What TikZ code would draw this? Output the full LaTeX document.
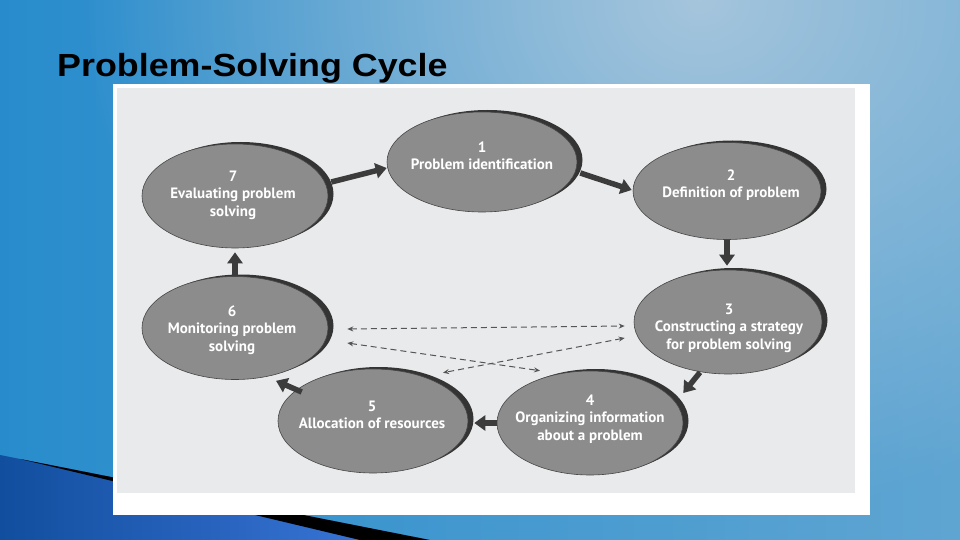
\documentclass[tikz,border=0pt]{standalone}
\usepackage{fontspec}
\usepackage{graphicx}
\setmainfont{Liberation Sans}
\newfontfamily\ptsans{PT Sans}
\usetikzlibrary{shapes.geometric,arrows.meta,shadows,fadings}
\definecolor{bgL}{RGB}{40,140,204}
\definecolor{bgR}{RGB}{95,165,210}
\definecolor{glowc}{RGB}{165,197,220}
\definecolor{swA}{RGB}{18,78,158}
\definecolor{swB}{RGB}{62,122,222}
\definecolor{pagec}{RGB}{233,234,235}
\definecolor{ellfill}{RGB}{140,140,140}
\definecolor{elldraw}{RGB}{70,70,70}
\definecolor{ellshadow}{RGB}{52,52,52}
\definecolor{arrowc}{RGB}{60,60,60}
\definecolor{dashc}{RGB}{85,85,85}
\tikzfading[name=softglow, inner color=transparent!0, outer color=transparent!100]
\tikzset{
  cyc/.style={ellipse, draw=elldraw, line width=0.6pt, fill=ellfill,
    minimum width=188pt, minimum height=103pt, inner sep=0pt,
    general shadow={shadow xshift=5.5pt, shadow yshift=2pt, fill=ellshadow}},
  cyctext/.style={text=white, font=\ptsans\bfseries\fontsize{15}{17.5}\selectfont,
    align=center, inner sep=0pt},
  bigarrow/.style={draw=arrowc, line width=5.5pt, -{Triangle[width=15pt,length=11pt]}},
  dasharrow/.style={draw=dashc, line width=1pt, dash pattern=on 6pt off 4pt,
    {Stealth[length=6pt,width=5pt]}-{Stealth[length=6pt,width=5pt]}}
}
\begin{document}
\begin{tikzpicture}[x=1pt,y=-1pt]
\useasboundingbox (0,0) rectangle (960,540);
% background
\shade[left color=bgL, right color=bgR] (0,0) rectangle (960,540);
\fill[glowc, path fading=softglow] (80,-520) rectangle (1320,520);
% bottom-left swoosh
\shade[left color=swA, right color=swB] (0,455) -- (430,540) -- (0,540) -- cycle;
\fill[black] (20,459) -- (430,540) -- (360,540) -- cycle;
% title
\node[anchor=base west, inner sep=0pt, font=\bfseries\fontsize{32}{36}\selectfont] (title) at (57,77) {\scalebox{1.12}[1]{Problem-Solving Cycle}};
% panel
\fill[white] (113,84) rectangle (870,515);
\fill[pagec] (117,88) rectangle (855,493);
% ellipses
\node[cyc, minimum width=190pt, minimum height=100pt] (e1) at (482,162) {};
\node[cyc, minimum height=97pt] (e2) at (727,191) {};
\node[cyc, minimum width=186pt, minimum height=104pt] (e7) at (235,196) {};
\node[cyc, minimum width=186pt] (e6) at (235,328) {};
\node[cyc, minimum height=104pt] (e3) at (728,322) {};
\node[cyc, minimum width=186pt, minimum height=104pt] (e4) at (590,423) {};
\node[cyc, minimum width=190pt, minimum height=104pt] (e5) at (373,421) {};
% texts
\node[cyctext] (t1) at (482,156) {1\\Problem identification};
\node[cyctext] (t2) at (731,185) {2\\Definition of problem};
\node[cyctext] (t7) at (233,195) {7\\Evaluating problem\\solving};
\node[cyctext] (t6) at (232,330) {6\\Monitoring problem\\solving};
\node[cyctext] (t3) at (729,328) {3\\Constructing a strategy\\for problem solving};
\node[cyctext] (t4) at (590,419) {4\\Organizing information\\about a problem};
\node[cyctext] (t5) at (372,415) {5\\Allocation of resources};
% cycle arrows
\draw[bigarrow] ([xshift=3pt,yshift=14pt]e7.east) -- ([yshift=-6pt]e1.west);
\draw[bigarrow] ([xshift=3pt,yshift=-11pt]e1.east) -- ([xshift=-1pt,yshift=1pt]e2.west);
\draw[bigarrow] (e2.south) -- ([xshift=-1pt,yshift=4pt]e3.north);
\draw[bigarrow] ([xshift=-28pt,yshift=2pt]e3.south) -- ([yshift=30pt]e4.east);
\draw[bigarrow] (e4.west) -- ([xshift=6pt,yshift=-2pt]e5.east);
\draw[bigarrow] ([xshift=24pt,yshift=29pt]e5.west) -- ([xshift=41pt,yshift=-1pt]e6.south);
\draw[bigarrow] (e6.north) -- ([yshift=-4pt]e7.south);
% dashed arrows
\draw[dasharrow] ([xshift=19pt,yshift=-1pt]e6.east) -- ([xshift=-9pt,yshift=-4pt]e3.west);
\draw[dasharrow] ([xshift=19pt,yshift=-15pt]e6.east) -- ([xshift=-50pt]e4.north);
\draw[dasharrow] ([xshift=-9pt,yshift=-16pt]e3.west) -- ([xshift=70pt,yshift=-4pt]e5.north);
\end{tikzpicture}
\end{document}
